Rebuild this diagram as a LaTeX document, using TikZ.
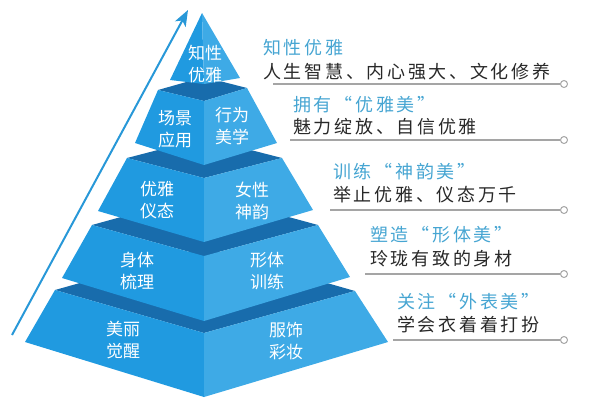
\documentclass[tikz,border=0pt]{standalone}
\usepackage{fontspec}
\setmainfont{Noto Sans CJK SC}
\newfontfamily\cjk{Noto Sans CJK SC}
\newfontfamily\cjksp[LetterSpace=15]{Noto Sans CJK SC}
\usetikzlibrary{arrows.meta}
\definecolor{pyL}{RGB}{32,154,224}
\definecolor{pyR}{RGB}{62,170,230}
\definecolor{pyD}{RGB}{24,108,172}
\definecolor{ttl}{RGB}{70,165,210}
\definecolor{sub}{RGB}{40,40,40}
\definecolor{cgray}{RGB}{165,165,165}
\definecolor{arr}{RGB}{40,152,216}
\begin{document}
\begin{tikzpicture}[x=1pt,y=-1pt,
  lface/.style={fill=pyL},
  rface/.style={fill=pyR},
  topface/.style={fill=pyD},
  plabel/.style={text=white,align=center,inner sep=0pt,font=\cjk\fontsize{17}{22}\selectfont},
  ttext/.style={text=ttl,anchor=west,inner sep=0pt,font=\cjksp\fontsize{18}{20}\selectfont},
  stext/.style={text=sub,anchor=west,inner sep=0pt,font=\cjksp\fontsize{18}{20}\selectfont},
  conn/.style={draw=cgray,line width=1.2pt},
  dot/.style={circle,draw=cgray,fill=white,line width=1pt,minimum size=7pt,inner sep=0pt},
  arrowline/.style={draw=arr,line width=2pt,-{Stealth[length=16pt,width=12pt,inset=4pt]}}]
\useasboundingbox (0,0) rectangle (600,400);
% ---------- tier 5 (bottom)
\fill[topface] (55,290) -- (204,333) -- (355,291) -- (204,248) -- cycle;
\fill[lface] (55,290) -- (204,333) -- (204,397) -- (25,342) -- cycle;
\fill[rface] (204,333) -- (355,291) -- (388,342) -- (204,397) -- cycle;
% ---------- tier 4
\fill[topface] (92,225) -- (204,256) -- (318,225) -- (204,194) -- cycle;
\fill[lface] (92,225) -- (204,256) -- (204,321) -- (62,278) -- cycle;
\fill[rface] (204,256) -- (318,225) -- (350,277) -- (204,321) -- cycle;
% ---------- tier 3
\fill[topface] (127,158) -- (204,178) -- (282,158) -- (204,138) -- cycle;
\fill[lface] (127,158) -- (204,178) -- (204,242) -- (98,211) -- cycle;
\fill[rface] (204,178) -- (282,158) -- (313,210) -- (204,242) -- cycle;
% ---------- tier 2
\fill[topface] (158,90) -- (204,101) -- (247,88) -- (204,77) -- cycle;
\fill[lface] (158,90) -- (204,101) -- (204,165) -- (135,143) -- cycle;
\fill[rface] (204,101) -- (247,88) -- (277,143) -- (204,165) -- cycle;
% ---------- tier 1 (apex)
\fill[lface] (202,13) -- (204,84) -- (170,80) -- cycle;
\fill[rface] (202,13) -- (240,78) -- (204,84) -- cycle;
% ---------- pyramid labels
\node[plabel] (p1)  at (205,64)  {知性\\优雅};
\node[plabel] (p2l) at (175,129) {场景\\应用};
\node[plabel] (p2r) at (232,126) {行为\\美学};
\node[plabel] (p3l) at (157,200) {优雅\\仪态};
\node[plabel] (p3r) at (252,201) {女性\\神韵};
\node[plabel] (p4l) at (137,271) {身体\\梳理};
\node[plabel] (p4r) at (267,271) {形体\\训练};
\node[plabel] (p5l) at (123,340) {美丽\\觉醒};
\node[plabel] (p5r) at (286,341) {服饰\\彩妆};
% ---------- rising arrow
\coordinate (arrS) at (12,335);
\coordinate (arrE) at (188,10);
\draw[arrowline] (arrS) -- (arrE);
% ---------- right-hand texts
\node[ttext] (t1) at (263,48)  {知性优雅};
\node[stext] (s1) at (263,72)  {人生智慧、内心强大、文化修养};
\node[ttext] (t2) at (293,105) {拥有“优雅美”};
\node[stext] (s2) at (293,127) {魅力绽放、自信优雅};
\node[ttext] (t3) at (333,172) {训练“神韵美”};
\node[stext] (s3) at (333,195) {举止优雅、仪态万千};
\node[ttext] (t4) at (370,235) {塑造“形体美”};
\node[stext] (s4) at (370,259) {玲珑有致的身材};
\node[ttext] (t5) at (397,302) {关注“外表美”};
\node[stext] (s5) at (397,325) {学会衣着着打扮};
% ---------- connector lines with end dots
\coordinate (c1) at (273,84);
\coordinate (c2) at (290,140);
\coordinate (c3) at (330,210);
\coordinate (c4) at (365,274);
\coordinate (c5) at (393,340);
\node[dot] (d1) at (564,84) {};
\node[dot] (d2) at (564,140) {};
\node[dot] (d3) at (564,210) {};
\node[dot] (d4) at (564,274) {};
\node[dot] (d5) at (564,340) {};
\draw[conn] (c1) -- (d1);
\draw[conn] (c2) -- (d2);
\draw[conn] (c3) -- (d3);
\draw[conn] (c4) -- (d4);
\draw[conn] (c5) -- (d5);
\end{tikzpicture}
\end{document}
